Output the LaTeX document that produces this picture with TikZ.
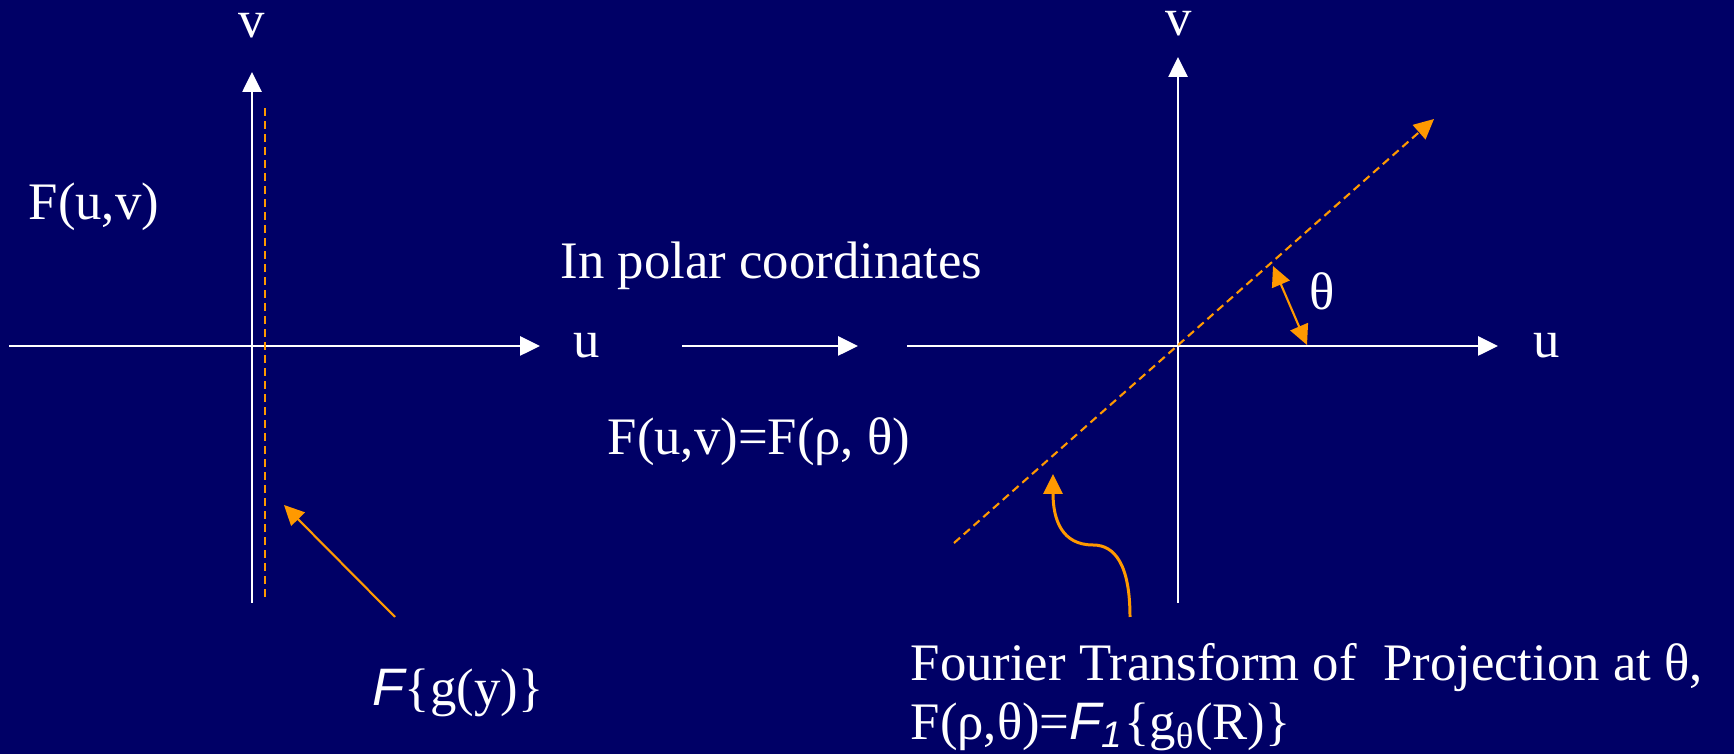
\documentclass[tikz,border=0pt]{standalone}
\usepackage{fontspec}
\setmainfont{Liberation Serif}
\newfontfamily\arialfont{Liberation Sans}
\usepackage{tikz}
\usetikzlibrary{arrows.meta}
\definecolor{slidebg}{HTML}{000066}
\definecolor{korange}{HTML}{FF9900}
\newcommand{\ftsym}{{\arialfont\itshape F}}

\begin{document}
\begin{tikzpicture}[x=0.1mm, y=-0.1mm,
  axis/.style={white, line width=0.75pt, -{Triangle[length=2mm, width=1.9mm]}},
  projline/.style={korange, line width=0.6pt, dash pattern=on 2.3pt off 1.4pt},
  pointer/.style={korange, line width=0.6pt, -{Triangle[length=2mm, width=1.9mm]}},
  lbl/.style={text=white, font=\fontsize{15}{17}\selectfont, inner sep=0pt}]
\fill[slidebg] (0,0) rectangle (1734,754);
\coordinate (xLs) at (9,346);
\coordinate (xLe) at (540,346);
\coordinate (yLs) at (252,603);
\coordinate (yLe) at (252,72);
\draw[axis] (xLs) -- (xLe);
\draw[axis] (yLs) -- (yLe);
\node[lbl, anchor=base] (vL) at (252,38) {v};
\node[lbl] (uL) at (587,346) {u};
\node[lbl, anchor=base west] (fuv) at (28,220) {F(u,v)};
\coordinate (pLs) at (265,597);
\coordinate (pLe) at (265,105);
\draw[projline] (pLs) -- (pLe);
\coordinate (aLs) at (395,617);
\coordinate (aLe) at (284,505);
\draw[pointer] (aLs) -- (aLe);
\node[lbl, anchor=base west] (fgy) at (372,706) {\ftsym\{g(y)\}};
\node[lbl, anchor=base west] (polar) at (560,279) {In polar coordinates};
\coordinate (mAs) at (682,346);
\coordinate (mAe) at (858,346);
\draw[axis] (mAs) -- (mAe);
\node[lbl, anchor=base west] (frt) at (607,455) {F(u,v)=F(ρ, θ)};
\coordinate (oR) at (1178,346);
\coordinate (xRs) at (907,346);
\coordinate (xRe) at (1498,346);
\coordinate (yRs) at (1178,603);
\coordinate (yRe) at (1178,57);
\draw[axis] (xRs) -- (xRe);
\draw[axis] (yRs) -- (yRe);
\node[lbl, anchor=base] (vR) at (1179,36) {v};
\node[lbl] (uR) at (1547,346) {u};
\coordinate (pRs) at (954,543);
\coordinate (pRe) at (1434,119);
\draw[projline, -{Triangle[length=2mm, width=1.9mm]}] (pRs) -- (pRe);
\coordinate (thA) at (1273,266);
\coordinate (thB) at (1307,345);
\draw[pointer, {Triangle[length=2mm, width=1.9mm]}-{Triangle[length=2mm, width=1.9mm]}] (thA) -- (thB);
\node[lbl] (th) at (1322,291) {θ};
\coordinate (cAs) at (1130,617);
\coordinate (cAe) at (1053,474);
\draw[pointer, line width=0.85pt] (cAs) .. controls (1130,565) and (1115,545) .. (1093,545)
  .. controls (1062,545) and (1053,520) .. (cAe);
\node[lbl, anchor=base west, align=left] (ftp) at (910,740)
  {Fourier Transform of \ Projection at θ,\\
   F(ρ,θ)=\ftsym\textsubscript{\arialfont\itshape 1}\{g\textsubscript{θ}(R)\}};
\end{tikzpicture}
\end{document}
